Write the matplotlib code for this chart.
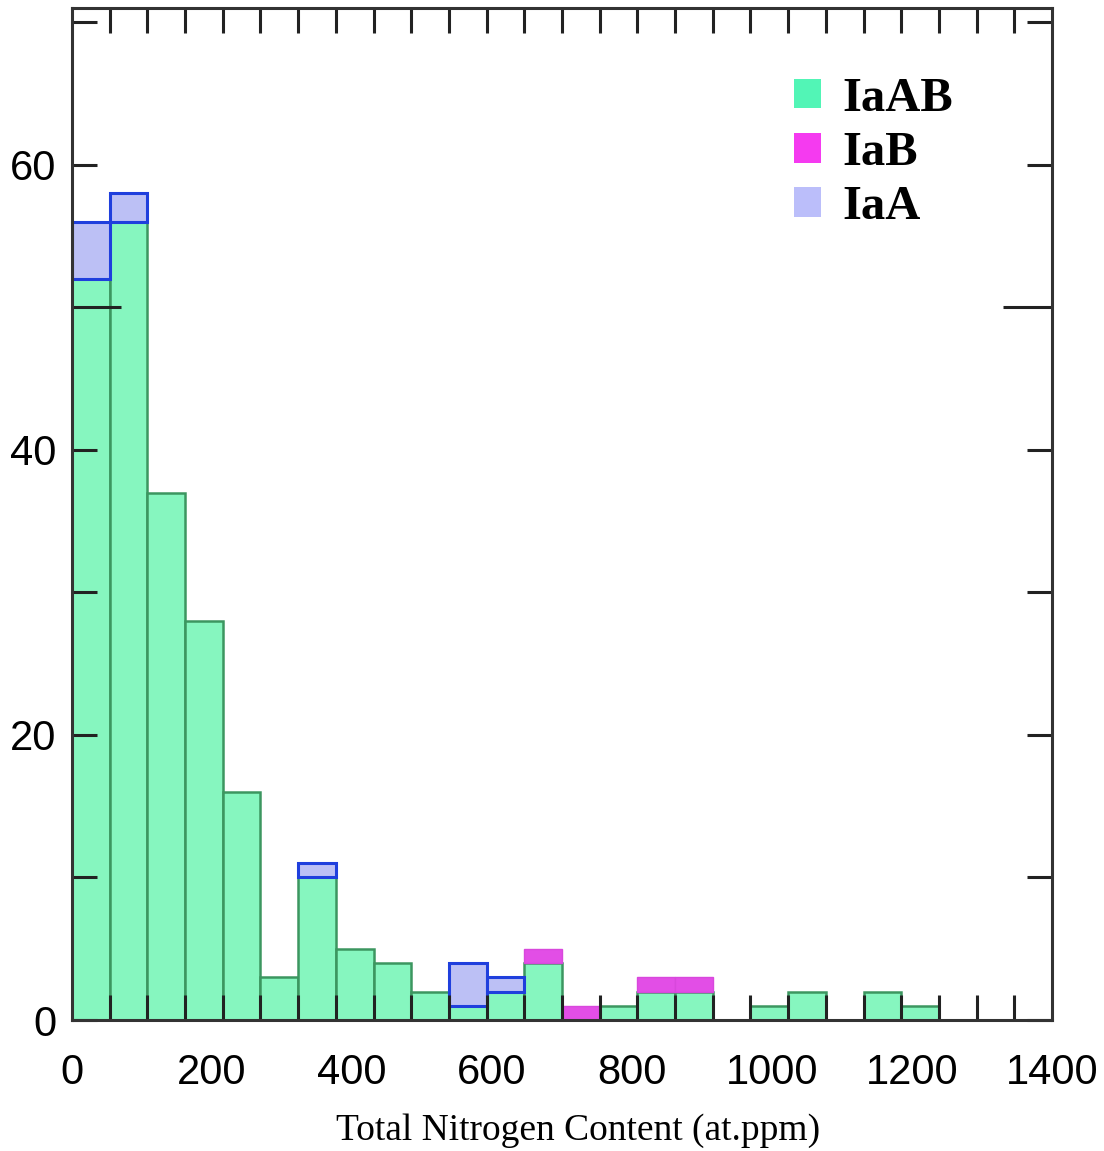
import numpy as np
import matplotlib
matplotlib.use("Agg")
import matplotlib.pyplot as plt
from matplotlib.patches import Patch

# histogram counts per bin (26 equal bins from 0 to 1400 at.ppm)
bin_edges = np.linspace(0, 1400, 27)
iaab = [52, 56, 37, 28, 16, 3, 10, 5, 4, 2, 1, 2, 4, 0, 1, 2, 2, 0, 1, 2, 0, 2, 1, 0, 0, 0]
iab  = [0, 0, 0, 0, 0, 0, 0, 0, 0, 0, 0, 0, 1, 1, 0, 1, 1, 0, 0, 0, 0, 0, 0, 0, 0, 0]
iaa  = [4, 2, 0, 0, 0, 0, 1, 0, 0, 0, 3, 1, 0, 0, 0, 0, 0, 0, 0, 0, 0, 0, 0, 0, 0, 0]

xtick_vals = [0, 200, 400, 600, 800, 1000, 1200, 1400]
ytick_vals = [0, 10, 20, 30, 40, 50, 60, 70]
ytick_labels = ["0", "", "20", "", "40", "", "60", ""]

GREEN = "#86F6BF"
GREEN_EDGE = "#3C9660"
MAGENTA = "#E24EE6"
LAV = "#BCC0F5"
BLUE = "#1F3FDD"

fig = plt.figure(figsize=(11.04, 11.51), dpi=100)
ax = fig.add_axes([0.0652, 0.1138, 0.8877, 0.8792])

left = bin_edges[:-1]
width = np.diff(bin_edges)
iaab = np.array(iaab)
iab = np.array(iab)
iaa = np.array(iaa)

ax.bar(left, iaab, width=width, align="edge", color=GREEN,
       edgecolor=GREEN_EDGE, linewidth=1.8)
m = iab > 0
ax.bar(left[m], iab[m], width=width[m], bottom=iaab[m], align="edge",
       color=MAGENTA, edgecolor="#D848DC", linewidth=1.0)
m = iaa > 0
ax.bar(left[m], iaa[m], width=width[m], bottom=iaab[m], align="edge",
       color=LAV, edgecolor=BLUE, linewidth=2.2)

ax.set_xlim(0, 1400)
ax.set_ylim(0, 71.0)

for s in ax.spines.values():
    s.set_color("#333333")
    s.set_linewidth(2.2)

lbl_font = {"family": "Liberation Sans", "size": 30}
ax.set_xticks(xtick_vals)
ax.set_xticklabels([str(v) for v in xtick_vals], fontdict=lbl_font)
ax.set_xticks(bin_edges[1:-1], minor=True)
ax.tick_params(axis="x", which="major", length=0, pad=24, top=False)
ax.tick_params(axis="x", which="minor", direction="in", length=18, width=2.2,
               color="#222222", top=True, bottom=True)

ax.set_yticks(ytick_vals)
ax.set_yticklabels(ytick_labels, fontdict=lbl_font)
ax.tick_params(axis="y", which="major", direction="in", length=18, width=2.2,
               color="#222222", left=True, right=True, pad=11)
# the 50 tick is drawn longer on both sides
t50 = ax.yaxis.get_major_ticks()[5]
t50.tick1line.set_markersize(35)
t50.tick2line.set_markersize(35)

ax.set_xlabel("Total Nitrogen Content (at.ppm)", family="Liberation Serif",
              fontsize=27)
ax.xaxis.set_label_coords(0.516, -0.092)

handles = [Patch(facecolor="#52F5B6", edgecolor="none"),
           Patch(facecolor="#F53AF0", edgecolor="none"),
           Patch(facecolor="#BBBEFA", edgecolor="none")]
ax.legend(handles, ["IaAB", "IaB", "IaA"], loc="upper left",
          bbox_to_anchor=(0.737, 0.932), frameon=False,
          prop={"family": "Liberation Serif", "weight": "bold", "size": 35},
          handlelength=0.56, handleheight=0.56, handletextpad=0.42,
          labelspacing=0.21, borderpad=0, borderaxespad=0)

fig.savefig("out.png", dpi=100)
